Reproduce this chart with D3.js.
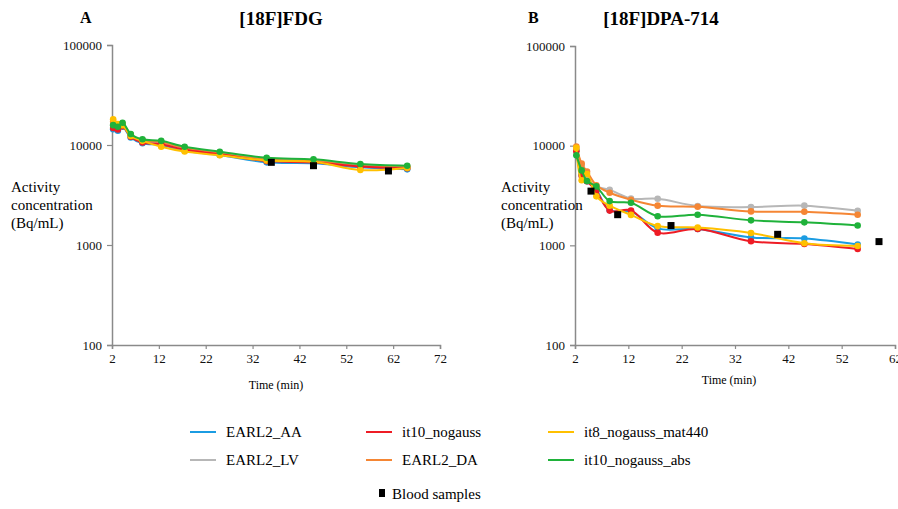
<!DOCTYPE html>
<html>
<head>
<meta charset="utf-8">
<script src="https://cdn.jsdelivr.net/npm/d3@7"></script>
<style>
  body { margin: 0; background: #fff; }
  svg text { font-family: "Liberation Serif", "Times New Roman", serif !important; }
</style>
</head>
<body>
<script>
// time points (min)
var timesA = [2.25, 3.25, 4.25, 6, 8.5, 12.5, 17.5, 25, 35, 45, 55, 65];
var timesB = [2.25, 3.25, 4.25, 6, 8.5, 12.5, 17.5, 25, 35, 45, 55];

var seriesNames = ["EARL2_AA", "EARL2_LV", "EARL2_DA", "it10_nogauss", "it8_nogauss_mat440", "it10_nogauss_abs"];
var seriesColors = ["#1b9ce2", "#b7b7b7", "#f58634", "#ee1c25", "#ffc000", "#1fb23a"];

// [18F]FDG activity (Bq/mL)
var fdgAA  = [14400, 13900, 15200, 11900, 10400, 10000, 8770, 7940, 6710, 6560, 5980, 5710];
var fdgLV  = [16000, 15500, 16000, 12600, 11100, 10600, 9200, 8300, 7200, 7000, 6300, 6050];
var fdgDA  = [17200, 16000, 16200, 12700, 11200, 10700, 9330, 8220, 7160, 6900, 6170, 6100];
var fdgIt10 = [14800, 14300, 15400, 12100, 10600, 10200, 8950, 8100, 6900, 6700, 6100, 5850];
var fdgIt8 = [18100, 16200, 15800, 12300, 11000, 9620, 8600, 7900, 7000, 6800, 5620, 5900];
var fdgAbs = [15800, 15200, 16700, 12900, 11400, 11000, 9600, 8570, 7460, 7190, 6460, 6210];

// [18F]DPA-714 activity (Bq/mL)
var dpaAA  = [9000, 5100, 4400, 3600, 2250, 2180, 1480, 1460, 1200, 1170, 1020];
var dpaLV  = [9200, 6300, 4800, 3900, 3600, 2950, 2930, 2480, 2420, 2500, 2220];
var dpaDA  = [9800, 6600, 5500, 4000, 3370, 2870, 2500, 2440, 2190, 2170, 2030];
var dpaIt10 = [8800, 5000, 4400, 3500, 2230, 2240, 1340, 1460, 1100, 1030, 920];
var dpaIt8 = [9500, 4500, 5200, 3100, 2500, 2020, 1560, 1510, 1330, 1050, 985];
var dpaAbs = [8000, 5650, 4420, 3900, 2780, 2670, 1960, 2030, 1780, 1700, 1580];

// blood samples
var bloodTimesA = [36, 45, 61];
var bloodA = [6710, 6210, 5500];
var bloodTimesB = [5, 10, 20, 40, 59];
var bloodB = [3500, 2030, 1580, 1290, 1090];

var xTicksA = [2, 12, 22, 32, 42, 52, 62, 72];
var xTicksB = [2, 12, 22, 32, 42, 52, 62];
var yTicks = [100, 1000, 10000, 100000];

var svg = d3.select("body").append("svg").attr("width", 898).attr("height", 509)
  .attr("font-family", "Liberation Serif");

function panel(opt) {
  var x = d3.scaleLinear().domain(opt.xDomain).range([opt.left, opt.right]);
  var y = d3.scaleLog().domain([100, 100000]).range([345, opt.top]);
  var g = svg.append("g");

  // axes
  var yAxis = g.append("g").attr("transform", "translate(" + opt.left + ",0)")
    .call(d3.axisLeft(y).tickValues(yTicks).tickFormat(d3.format("d")).tickSize(5).tickPadding(5));
  var xAxis = g.append("g").attr("transform", "translate(0,345)")
    .call(d3.axisBottom(x).tickValues(opt.xTicks).tickSize(4).tickPadding(5));
  [xAxis, yAxis].forEach(function(a) {
    a.attr("font-family", "Liberation Serif").attr("font-size", 13);
    a.select(".domain").attr("stroke", "#8a8a8a").attr("stroke-width", 1.5);
    a.selectAll(".tick line").attr("stroke", "#8a8a8a").attr("stroke-width", 1.2);
    a.selectAll(".tick text").attr("fill", "#111");
  });

  // series
  var line = d3.line().curve(d3.curveCatmullRom.alpha(0.5))
    .x(function(d) { return x(d[0]); }).y(function(d) { return y(d[1]); });
  opt.series.forEach(function(vals, i) {
    var pts = opt.times.map(function(t, k) { return [t, vals[k]]; });
    g.append("path").datum(pts).attr("d", line).attr("fill", "none")
      .attr("stroke", seriesColors[i]).attr("stroke-width", 2);
    g.selectAll(".m" + i).data(pts).enter().append("circle")
      .attr("cx", function(d) { return x(d[0]); })
      .attr("cy", function(d) { return y(d[1]); })
      .attr("r", 3.3).attr("fill", seriesColors[i]);
  });

  // blood samples
  g.selectAll(".blood").data(opt.bloodT).enter().append("rect")
    .attr("x", function(d) { return x(d) - 3.5; })
    .attr("y", function(d, k) { return y(opt.blood[k]) - 3.5; })
    .attr("width", 7).attr("height", 7).attr("fill", "#000");

  // labels
  g.append("text").attr("x", opt.letterX).attr("y", 23).attr("font-weight", "bold")
    .attr("font-size", 16).text(opt.letter);
  g.append("text").attr("x", opt.titleX).attr("y", 25).attr("text-anchor", "middle")
    .attr("font-weight", "bold").attr("font-size", 19).text(opt.title);
  var lab = g.append("text").attr("font-size", 15);
  ["Activity", "concentration", "(Bq/mL)"].forEach(function(s, k) {
    lab.append("tspan").attr("x", opt.labelX).attr("y", 192 + k * 18).text(s);
  });
  g.append("text").attr("x", (opt.left + opt.right) / 2 + opt.xLabelShift).attr("y", opt.xLabelY)
    .attr("text-anchor", "middle").attr("font-size", 12).text("Time (min)");
}

panel({ left: 112, right: 440, top: 45, xDomain: [2, 72], xTicks: xTicksA, times: timesA,
  series: [fdgAA, fdgLV, fdgDA, fdgIt10, fdgIt8, fdgAbs], bloodT: bloodTimesA, blood: bloodA,
  letter: "A", letterX: 80, title: "[18F]FDG", titleX: 281, labelX: 11, xLabelY: 389, xLabelShift: 0 });
panel({ left: 575, right: 895, top: 46, xDomain: [2, 62], xTicks: xTicksB, times: timesB,
  series: [dpaAA, dpaLV, dpaDA, dpaIt10, dpaIt8, dpaAbs], bloodT: bloodTimesB, blood: bloodB,
  letter: "B", letterX: 528, title: "[18F]DPA-714", titleX: 661, labelX: 501, xLabelY: 384, xLabelShift: -6 });

// legend
var legX = [190, 366, 548], legY = [432, 460];
var legOrder = [0, 3, 4, 1, 2, 5];
var leg = svg.append("g");
legOrder.forEach(function(si, k) {
  var cx = legX[k % 3], cy = legY[Math.floor(k / 3)];
  leg.append("line").attr("x1", cx).attr("x2", cx + 26).attr("y1", cy).attr("y2", cy)
    .attr("stroke", seriesColors[si]).attr("stroke-width", 2);
  leg.append("text").attr("x", cx + 36).attr("y", cy + 5).attr("font-size", 15).text(seriesNames[si]);
});
leg.append("rect").attr("x", 379).attr("y", 489).attr("width", 6).attr("height", 8).attr("fill", "#000");
leg.append("text").attr("x", 392).attr("y", 499).attr("font-size", 15).text("Blood samples");
</script>
</body>
</html>
